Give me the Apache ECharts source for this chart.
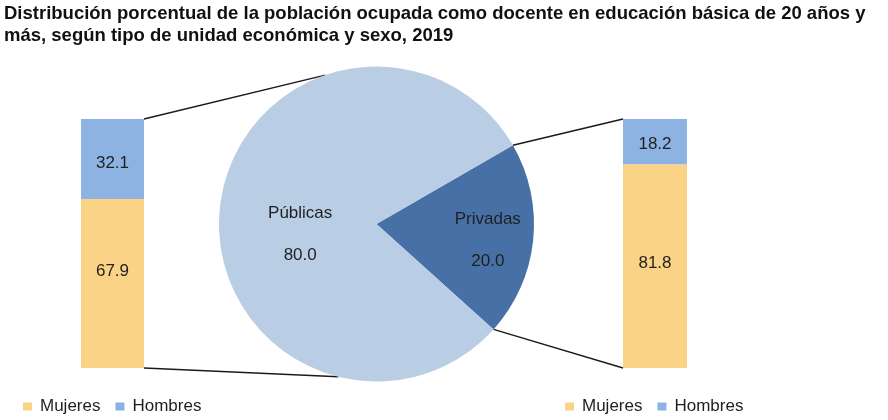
<!DOCTYPE html>
<html>
<head>
<meta charset="utf-8">
<title>Docentes en educación básica, 2019</title>
<script src="https://cdn.jsdelivr.net/npm/echarts@6/dist/echarts.min.js"></script>
<style>
  html, body { margin: 0; padding: 0; background: #fff; }
  #chart { width: 888px; height: 420px; }
</style>
</head>
<body>
<div id="chart"></div>
<script>
// datos
var titulo = 'Distribución porcentual de la población ocupada como docente en educación básica de 20 años y\nmás, según tipo de unidad económica y sexo, 2019';
var tipos = ['Privadas', 'Públicas'];
var tiposValores = [20.0, 80.0];
var sexos = ['Mujeres', 'Hombres'];
var publicasSexo = [67.9, 32.1];   // Mujeres, Hombres
var privadasSexo = [81.8, 18.2];   // Mujeres, Hombres

var colores = {
  'Privadas': '#4771a6',
  'Públicas': '#b9cde5',
  'Mujeres': '#fad386',
  'Hombres': '#8db3e2'
};

// layout
var pieC = [376.5, 224], pieR = 157.5;
var barTop = 119, barH = 249;
var barIzq = { left: 81, width: 63 };
var barDer = { left: 623, width: 64 };
var fuente = 'Liberation Sans, Arial, sans-serif';
var texto = '#1f1f1f';

function enPie(grados) {
  var a = grados * Math.PI / 180;
  return [pieC[0] + pieR * Math.cos(a), pieC[1] - pieR * Math.sin(a)];
}

var startAngle = 30;
var finPrivadas = startAngle - 360 * tiposValores[0] / 100;

function barSeries(nombre, valor, grid, offset) {
  return {
    name: nombre,
    type: 'bar',
    stack: 'g' + grid,
    xAxisIndex: grid,
    yAxisIndex: grid,
    barWidth: '100%',
    itemStyle: { color: colores[nombre] },
    label: {
      show: true,
      position: 'inside',
      offset: [0, offset],
      color: texto,
      fontFamily: fuente,
      fontSize: 17,
      formatter: function (p) { return p.value.toFixed(1); }
    },
    data: [valor]
  };
}

function linea(p1, p2) {
  return {
    type: 'line',
    silent: true,
    shape: { x1: p1[0], y1: p1[1], x2: p2[0], y2: p2[1] },
    style: { stroke: '#1a1a1a', lineWidth: 1.4 }
  };
}

var chart = echarts.init(document.getElementById('chart'));

var legendaBase = {
  data: sexos,
  icon: 'rect',
  itemWidth: 9,
  itemHeight: 8,
  itemGap: 15,
  textStyle: { fontFamily: fuente, fontSize: 17, color: texto, padding: [0, 0, 0, 3] }
};

var option = {
  backgroundColor: '#fff',
  animation: false,
  title: {
    text: titulo,
    left: 4,
    top: 3,
    padding: 0,
    textStyle: { fontFamily: fuente, fontSize: 18.5, fontWeight: 'bold', color: '#111', lineHeight: 22 }
  },
  legend: [
    Object.assign({}, legendaBase, { left: 18, top: 393 }),
    Object.assign({}, legendaBase, { left: 560, top: 393 })
  ],
  grid: [
    { left: barIzq.left, width: barIzq.width, top: barTop, height: barH },
    { left: barDer.left, width: barDer.width, top: barTop, height: barH }
  ],
  xAxis: [0, 1].map(function (i) {
    return { gridIndex: i, type: 'category', data: [''], show: false };
  }),
  yAxis: [0, 1].map(function (i) {
    return { gridIndex: i, type: 'value', min: 0, max: 100, show: false };
  }),
  series: [
    {
      type: 'pie',
      center: pieC,
      radius: pieR,
      startAngle: startAngle,
      clockwise: true,
      silent: true,
      itemStyle: { borderWidth: 0 },
      label: {
        show: true,
        position: 'inside',
        color: texto,
        fontFamily: fuente,
        fontSize: 17,
        lineHeight: 21,
        formatter: function (p) { return p.name + '\n\n' + p.value.toFixed(1); }
      },
      labelLine: { show: false },
      labelLayout: function (p) {
        return p.dataIndex === 0 ? { dx: 30, dy: 8 } : { dx: 5, dy: 19 };
      },
      data: tipos.map(function (t, i) {
        return { name: t, value: tiposValores[i], itemStyle: { color: colores[t] } };
      })
    },
    barSeries(sexos[0], publicasSexo[0], 0, -12),
    barSeries(sexos[1], publicasSexo[1], 0, 4),
    barSeries(sexos[0], privadasSexo[0], 1, -3),
    barSeries(sexos[1], privadasSexo[1], 1, 3)
  ],
  graphic: [
    linea([barIzq.left + barIzq.width, barTop], enPie(109)),
    linea([barIzq.left + barIzq.width, barTop + barH], enPie(-104)),
    linea([barDer.left, barTop], enPie(startAngle)),
    linea([barDer.left, barTop + barH], enPie(finPrivadas))
  ]
};

chart.setOption(option);
</script>
</body>
</html>
